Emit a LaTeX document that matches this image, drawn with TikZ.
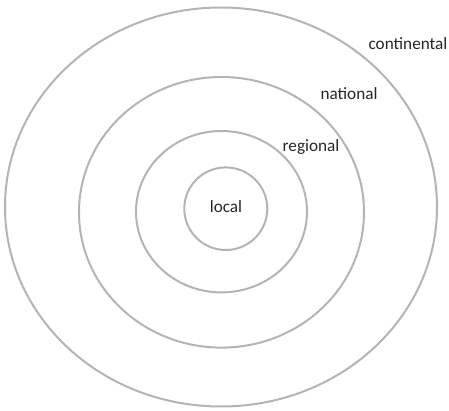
\documentclass[tikz,border=0pt]{standalone}
\usepackage{fontspec}
\setmainfont{Carlito}
\begin{document}
\begin{tikzpicture}[x=1pt,y=-1pt,
  ring/.style={draw=ringgray, line width=2pt},
  lbl/.style={font=\fontsize{17.2}{20}\selectfont, inner sep=0pt, text=black!85}]
\definecolor{ringgray}{RGB}{180,180,180}
\useasboundingbox (0,0) rectangle (449,411);
\draw[ring] (221,207) ellipse [x radius=216, y radius=199.5];
\draw[ring] (221.5,212.3) ellipse [x radius=142.5, y radius=135.3];
\draw[ring] (221.5,211.7) ellipse [x radius=85.5, y radius=80.7];
\draw[ring] (225.8,208.7) ellipse [x radius=41.5, y radius=41.3];
\node[lbl] (continental) at (408,44) {continental};
\node[lbl] (national) at (349,94) {national};
\node[lbl] (regional) at (311,147) {regional};
\node[lbl] (local) at (226,207) {local};
\end{tikzpicture}
\end{document}
